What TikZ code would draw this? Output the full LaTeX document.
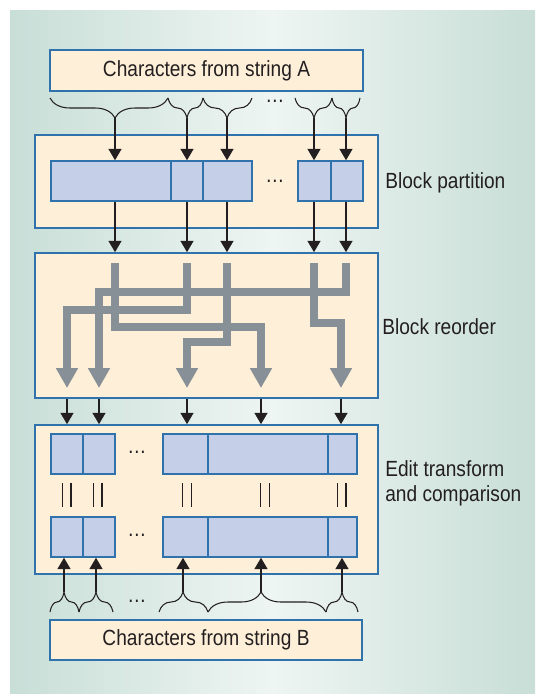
\documentclass[tikz,border=0pt]{standalone}
\usepackage{fontspec}
\setmainfont{Liberation Sans}[FakeStretch=0.87]
\usetikzlibrary{arrows.meta,decorations.pathreplacing}
\definecolor{bgside}{HTML}{C8DED7}
\definecolor{bgmid}{HTML}{EEF5F2}
\definecolor{boxfill}{HTML}{FEEFD9}
\definecolor{boxline}{HTML}{2F72AC}
\definecolor{blockfill}{HTML}{C5CFE7}
\definecolor{routegray}{HTML}{878F97}
\definecolor{ink}{HTML}{231F20}
\begin{document}
\begin{tikzpicture}[x=0.02cm,y=-0.02cm,font=\fontsize{12.5}{14.2}\selectfont,text=ink]
    \tikzstyle{strbox}=[draw=boxline,fill=boxfill,line width=0.9pt,minimum width=6.25cm,minimum height=0.81cm,inner sep=0pt]
    \tikzstyle{stage}=[draw=boxline,fill=boxfill,line width=0.8pt,minimum width=6.86cm,inner sep=0pt]
    \tikzstyle{blk}=[draw=boxline,fill=blockfill,line width=0.7pt,minimum height=0.8cm,inner sep=0pt]
    \tikzstyle{brc}=[decorate,decoration={brace,amplitude=0.4cm},line width=0.6pt,ink]
    \tikzstyle{link}=[draw=ink,line width=1.6pt,-{Triangle[width=2.5mm,length=2.3mm]}]
    \tikzstyle{route}=[draw=routegray,line width=4pt,-{Triangle[width=4.2mm,length=4mm]}]
    \tikzstyle{eq}=[draw=ink,line width=0.6pt]
    \tikzstyle{stagelabel}=[anchor=west,inner sep=0pt,align=left]

    % background
    \useasboundingbox (0,0) rectangle (535,694);
    \shade[left color=bgside,right color=bgside,middle color=bgmid] (10,10) rectangle (535,694);

    % stages
    \node[strbox] (strA) at (206.5,70.5) {Characters from string A};
    \node[stage,minimum height=1.86cm] (part) at (206.5,181.5) {};
    \node[stage,minimum height=2.9cm] (reord) at (206.5,325.5) {};
    \node[stage,minimum height=2.98cm] (edit) at (206.5,499.5) {};
    \node[strbox] (strB) at (206,640) {Characters from string B};

    \node[stagelabel] (lpart) at (385,183) {Block partition};
    \node[stagelabel] (lreord) at (382,327) {Block reorder};
    \node[stagelabel] (ledit) at (385,483) {Edit transform\\and comparison};

    % blocks
    \node[blk,minimum width=2.4cm] (p1) at (111,181) {};
    \node[blk,minimum width=0.64cm] (p2) at (187,181) {};
    \node[blk,minimum width=0.98cm] (p3) at (227.5,181) {};
    \node[blk,minimum width=0.66cm] (p4) at (314.5,181) {};
    \node[blk,minimum width=0.64cm] (p5) at (347,181) {};
    \node (dotsP) at (275,181) {\dots};

    \foreach \y/\r in {454/e,537/f}{
        \node[blk,minimum width=0.64cm] (\r1) at (67,\y) {};
        \node[blk,minimum width=0.64cm] (\r2) at (99,\y) {};
        \node[blk,minimum width=0.9cm] (\r3) at (185.5,\y) {};
        \node[blk,minimum width=2.4cm] (\r4) at (268,\y) {};
        \node[blk,minimum width=0.58cm] (\r5) at (342.5,\y) {};
        \node (dots\r) at (137,\y-2) {\dots};
    }
    \foreach \x in {66.7,97.7,187,265,341.7}{
        \draw[eq] (\x-4.3,483) -- (\x-4.3,507);
        \draw[eq] (\x+4.3,483) -- (\x+4.3,507);
    }

    % string A braces
    \foreach \a/\b/\t/\n in {50/168/115/1,168/203/187/2,203/252/227/3,295/332/314/4,332/360/346/5}{
        \pgfmathsetmacro\asp{(\t-\a)/(\b-\a)}
        \draw[brc,decoration={mirror,aspect=\asp}] (\a,98) -- (\b,98);
        \coordinate (ta\n) at (\t,118);
        \coordinate (s\n) at (\t,263);
    }
    \node (dotsA) at (275,101) {\dots};
    \foreach \n in {1,...,5}{
        \draw[link] (ta\n) -- (ta\n |- p\n.north);
        \draw[link] (ta\n |- p\n.south) -- (ta\n |- reord.north);
    }

    % reorder
    \coordinate (d1) at (67,388);
    \coordinate (d2) at (99,388);
    \coordinate (d3) at (187,388);
    \coordinate (d4) at (261,388);
    \coordinate (d5) at (341,388);
    \draw[route] (s1) |- (261,327) -- (d4);
    \draw[route] (s2) |- (67,310) -- (d1);
    \draw[route] (s3) |- (187,342) -- (d3);
    \draw[route] (s4) |- (341,323) -- (d5);
    \draw[route] (s5) |- (99,292) -- (d2);
    \foreach \n in {1,...,5}
        \draw[link] (d\n |- reord.south) -- (d\n |- edit.north);

    % string B braces
    \foreach \a/\b/\t/\n in {50/79/64/1,79/113/96/2,159/208/183/3,208/326/261/4,326/358/342/5}{
        \pgfmathsetmacro\asp{(\t-\a)/(\b-\a)}
        \draw[brc,decoration={aspect=\asp}] (\a,612) -- (\b,612);
        \coordinate (tb\n) at (\t,592);
        \draw[link] (tb\n) -- (tb\n |- f\n.south);
    }
    \node (dotsB) at (137,601) {\dots};
\end{tikzpicture}
\end{document}
